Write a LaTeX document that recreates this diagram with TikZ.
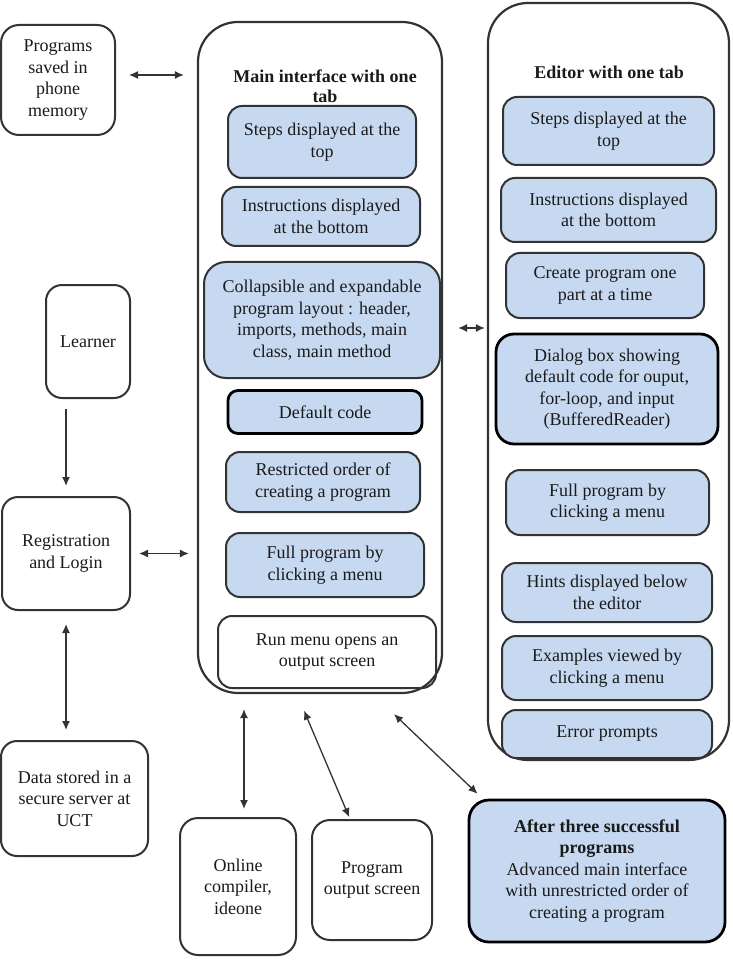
\documentclass[tikz,border=0pt]{standalone}
\usepackage{fontspec}
\setmainfont{LiberationSerif}[Extension=.ttf, UprightFont=*-Regular, BoldFont=*-Bold, ItalicFont=*-Italic, BoldItalicFont=*-BoldItalic]
\usetikzlibrary{arrows.meta}
\definecolor{boxblue}{HTML}{C6D9F1}
\definecolor{edge}{HTML}{333333}
\definecolor{txt}{HTML}{1A1A1A}
\begin{document}
\begin{tikzpicture}[x=1pt,y=-1pt,
  base/.style={draw=edge, line width=2pt, rounded corners=14pt, align=center, text=txt,
    font=\fontsize{18}{21.5}\selectfont, inner sep=2pt},
  whitebox/.style={base},
  bluebox/.style={base, fill=boxblue},
  strongbox/.style={base, fill=boxblue, draw=black, line width=2.8pt},
  container/.style={draw=edge, line width=2.2pt, rounded corners=40pt},
  title/.style={align=center, text=txt, font=\bfseries\fontsize{18}{20}\selectfont},
  link/.style={draw=edge, line width=1.3pt, {Latex[length=9pt,width=8pt]}-{Latex[length=9pt,width=8pt]}},
  onelink/.style={draw=edge, line width=1.3pt, -{Latex[length=9pt,width=8pt]}}
]
\useasboundingbox (0,0) rectangle (732,965);

% containers
\node[container, minimum width=244pt, minimum height=671pt] (main) at (320,357.5) {};
\node[container, minimum width=241pt, minimum height=757pt] (editor) at (608.5,381.5) {};
\node[title] (mtitle) at (325,86) {Main interface with one\\tab};
\node[title] (etitle) at (609,72) {Editor with one tab};

% left column
\node[whitebox, rounded corners=18pt, minimum width=114pt, minimum height=110pt] (prog) at (58,80) {Programs\\saved in\\phone\\memory};
\node[whitebox, rounded corners=16pt, minimum width=84pt, minimum height=113pt] (learner) at (88,341.5) {Learner};
\node[whitebox, rounded corners=16pt, minimum width=128pt, minimum height=113pt] (reg) at (66,553.5) {Registration\\and Login};
\node[whitebox, rounded corners=16pt, minimum width=147pt, minimum height=115pt] (data) at (74.5,798.5) {Data stored in a\\secure server at\\UCT};

% bottom
\node[whitebox, rounded corners=18pt, minimum width=116pt, minimum height=137pt] (online) at (238,886.5) {Online\\compiler,\\ideone};
\node[whitebox, rounded corners=18pt, minimum width=120pt, minimum height=120pt] (output) at (372,880) {Program\\output screen};
\node[strongbox, rounded corners=20pt, minimum width=256pt, minimum height=142pt] (after) at (597,871) {\textbf{After three successful}\\\textbf{programs}\\Advanced main interface\\with unrestricted order of\\creating a program};

% main interface inner
\node[bluebox, minimum width=188pt, minimum height=72pt] (msteps) at (322,142) {Steps displayed at the\\top};
\node[bluebox, minimum width=198pt, minimum height=59pt] (minstr) at (321,216.5) {Instructions displayed\\at the bottom};
\node[bluebox, rounded corners=22pt, minimum width=236pt, minimum height=116pt] (mcoll) at (322,320) {Collapsible and expandable\\program layout : header,\\imports, methods, main\\class, main method};
\node[strongbox, rounded corners=10pt, minimum width=194pt, minimum height=43pt] (mdef) at (325,412) {Default code};
\node[bluebox, minimum width=194pt, minimum height=60pt] (mrestr) at (323,482) {Restricted order of\\creating a program};
\node[bluebox, minimum width=198pt, minimum height=64pt] (mfull) at (325,565) {Full program by\\clicking a menu};
\node[whitebox, minimum width=218pt, minimum height=72pt] (mrun) at (327,652) {Run menu opens an\\output screen};

% editor inner
\node[bluebox, minimum width=211pt, minimum height=68pt] (esteps) at (608.5,131) {Steps displayed at the\\top};
\node[bluebox, minimum width=215pt, minimum height=64pt] (einstr) at (608.5,210) {Instructions displayed\\at the bottom};
\node[bluebox, minimum width=198pt, minimum height=65pt] (ecreate) at (605,285.5) {Create program one\\part at a time};
\node[strongbox, rounded corners=18pt, minimum width=222pt, minimum height=110pt] (edialog) at (607,389) {Dialog box showing\\default code for ouput,\\for-loop, and input\\(BufferedReader)};
\node[bluebox, minimum width=203pt, minimum height=65pt] (efull) at (607.5,502.5) {Full program by\\clicking a menu};
\node[bluebox, minimum width=210pt, minimum height=59pt] (ehints) at (607,592.5) {Hints displayed below\\the editor};
\node[bluebox, minimum width=210pt, minimum height=64pt] (eex) at (607,668) {Examples viewed by\\clicking a menu};
\node[bluebox, minimum width=210pt, minimum height=48pt] (eerr) at (607,734) {Error prompts};

% connectors
\draw[link, shorten <=13pt, shorten >=13pt] ([yshift=5pt]prog.east) -- ([yshift=5pt]prog.east -| main.west);
\draw[link, shorten <=15pt, shorten >=2pt] (main.east |- 0,328) -- (editor.west |- 0,328);
\draw[onelink, shorten <=10pt, shorten >=10pt] (learner.south -| reg.north) -- (reg.north);
\draw[link, shorten <=8pt, shorten >=8pt] (reg.east) -- (reg.east -| main.west);
\draw[link, shorten <=13pt, shorten >=10pt] (reg.south) -- (reg.south |- data.north);
\draw[link, shorten <=8pt, shorten >=15pt] ([xshift=6pt]online.north) -- ([xshift=6pt]online.north |- main.south);
\draw[link, shorten <=18pt, shorten >=2pt] ([xshift=-23pt]main.south) -- ([xshift=-22pt]output.north);
\draw[link, shorten <=29pt, shorten >=7pt] ([xshift=53pt]main.south) -- ([xshift=15pt]after.north west);
\end{tikzpicture}
\end{document}
